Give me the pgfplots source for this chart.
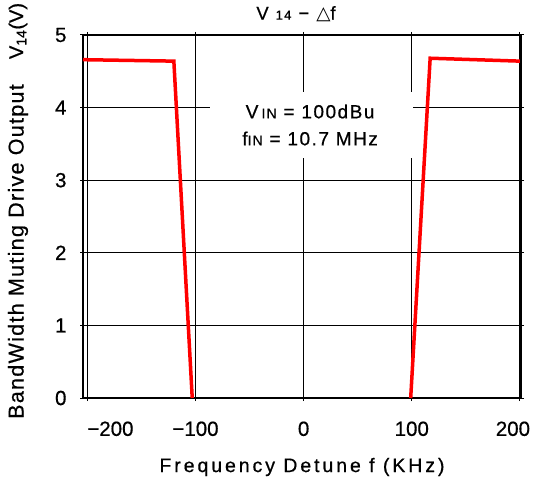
\documentclass[border=0pt]{standalone}
\usepackage{fontspec}
\setmainfont{Liberation Sans}[FakeBold=0.6]
\newfontfamily\symfont{DejaVu Sans}
\usepackage{pgfplots}
\pgfplotsset{compat=1.18}
\pgfplotstableread{
x y
-204 4.66
-120 4.64
-103 0
}\leftdata
\pgfplotstableread{
x y
99 0
117 4.68
200 4.64
}\rightdata
\begin{document}
\begin{tikzpicture}
\begin{axis}[
  width=438pt, height=363pt, scale only axis,
  xmin=-204, xmax=201, ymin=0, ymax=5,
  xtick={-200,-100,0,100,200},
  xticklabels={\rlap{−200},−100,0,100,200\hspace*{14pt}},
  ytick={0,1,2,3,4,5},
  yticklabels={0,1,2,3,4,5},
  grid=major,
  major grid style={black, line width=1.2pt},
  axis line style={black, line width=1.6pt},
  tick style={black, line width=1pt},
  tick align=outside, major tick length=3pt,
  ticklabel style={font=\fontsize{20.5}{24}\selectfont},
  xticklabel style={yshift=-17pt},
  yticklabel style={xshift=-10pt},
  clip=false,
]
\node[fill=white, minimum width=203pt, minimum height=66pt, inner sep=0pt] at (axis cs:7,3.76) {};
\node[align=center, font=\fontsize{19}{27}\selectfont\addfontfeature{LetterSpace=8}] at (axis cs:6,3.76)
  {V\,{\fontsize{14}{16}\selectfont IN} = 100dBu\\ f{\fontsize{14}{16}\selectfont IN} = 10.7 MHz};
\addplot[red, line width=3.5pt, line join=miter] table[x=x,y=y] {\leftdata};
\addplot[red, line width=3.5pt, line join=miter] table[x=x,y=y] {\rightdata};
\end{axis}
\node[font=\fontsize{19.5}{22}\selectfont\addfontfeature{LetterSpace=15}] at ([yshift=-69pt]current axis.south) {Frequency Detune f (KHz)};
\node[rotate=90, font=\fontsize{21.5}{24}\selectfont\addfontfeature{LetterSpace=6}] at ([xshift=-65pt, yshift=-35pt]current axis.west) {BandWidth Muting Drive Output};
\node[rotate=90, anchor=center, font=\fontsize{20}{22}\selectfont] at ([xshift=-65pt, yshift=4pt]current axis.north west) {V\textsubscript{14}(V)};
\node[font=\fontsize{18.5}{20}\selectfont\addfontfeature{LetterSpace=10}] at ([xshift=-6pt, yshift=21pt]current axis.north) {V {\fontsize{13}{14}\selectfont 14} − {\symfont △}f};
\pgfresetboundingbox
\path ([xshift=-83pt, yshift=-86pt]current axis.south west) rectangle ([xshift=16pt, yshift=35pt]current axis.north east);
\end{tikzpicture}
\end{document}
